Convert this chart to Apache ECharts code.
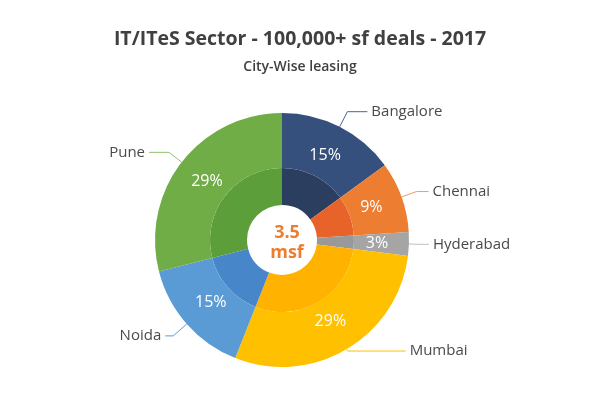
<!DOCTYPE html>
<html>
<head>
<meta charset="utf-8">
<script src="https://cdn.jsdelivr.net/npm/echarts@6/dist/echarts.min.js"></script>
<style>
html,body{margin:0;padding:0;background:#fff;}
#c{width:600px;height:416px;}
</style>
</head>
<body>
<div id="c"></div>
<script>
var cities = ['Bangalore', 'Chennai', 'Hyderabad', 'Mumbai', 'Noida', 'Pune'];
var shares = [15, 9, 3, 29, 15, 29];
var totalLabel = ['3.5', 'msf'];
var titleText = 'IT/ITeS Sector - 100,000+ sf deals - 2017';
var subtitleText = 'City-Wise leasing';

// styling (not data)
var outerColors = ['#35507c', '#ed7d31', '#a5a5a5', '#ffc000', '#5b9bd5', '#70ad47'];
var innerColors = ['#2c3e5f', '#e8632a', '#999999', '#ffb200', '#4786c9', '#5c9e3a'];
var lineColors  = ['#4a6490', '#f09a65', '#c0c0c0', '#ffc000', '#5b9bd5', '#8fc46c'];
var leaderLen   = [17, 16, 10, 2, 18, 16];
var leaderLen2  = [20, 12, 10, 58, 8, 20];

var chart = echarts.init(document.getElementById('c'), null, {renderer: 'canvas'});
var CX = 282, CY = 240;
var FONT = 'Open Sans';

function build(colors, withLines) {
  return cities.map(function (c, i) {
    var d = {name: c, value: shares[i], itemStyle: {color: colors ? colors[i] : 'rgba(0,0,0,0)'}};
    if (withLines) {
      d.labelLine = {length: leaderLen[i], length2: leaderLen2[i], lineStyle: {color: lineColors[i], width: 1}};
    }
    return d;
  });
}

chart.setOption({
  animation: false,
  title: [{
    text: titleText,
    left: 'center', top: 24,
    textStyle: {fontFamily: FONT, fontSize: 19.5, fontWeight: 'bold', color: '#404040'}
  }, {
    text: subtitleText,
    left: 'center', top: 55,
    textStyle: {fontFamily: FONT, fontSize: 14, fontWeight: 600, color: '#404040'}
  }, {
    text: totalLabel.join('\n'),
    left: CX, top: CY - 22,
    textAlign: 'center',
    textStyle: {fontFamily: FONT, fontSize: 18, fontWeight: 'bold', color: '#ed7d31', lineHeight: 20}
  }],
  series: [{
    type: 'pie',
    center: [CX, CY],
    radius: [35, 72],
    startAngle: 90,
    clockwise: true,
    silent: true,
    label: {show: false},
    labelLine: {show: false},
    data: build(innerColors, false)
  }, {
    type: 'pie',
    center: [CX, CY],
    radius: [72, 127],
    startAngle: 90,
    clockwise: true,
    silent: true,
    label: {
      show: true, position: 'outside',
      formatter: '{b}',
      color: '#4a4a4a', fontFamily: FONT, fontSize: 15,
      distanceToLabelLine: 4
    },
    labelLine: {show: true},
    data: build(outerColors, true)
  }, {
    type: 'pie',
    center: [CX, CY],
    radius: [57, 127],
    startAngle: 90,
    clockwise: true,
    silent: true,
    label: {
      show: true, position: 'inside',
      formatter: '{c}%',
      color: '#ffffff', fontFamily: FONT, fontSize: 16, fontWeight: 500
    },
    labelLine: {show: false},
    data: build(null, false)
  }]
});
</script>
</body>
</html>
